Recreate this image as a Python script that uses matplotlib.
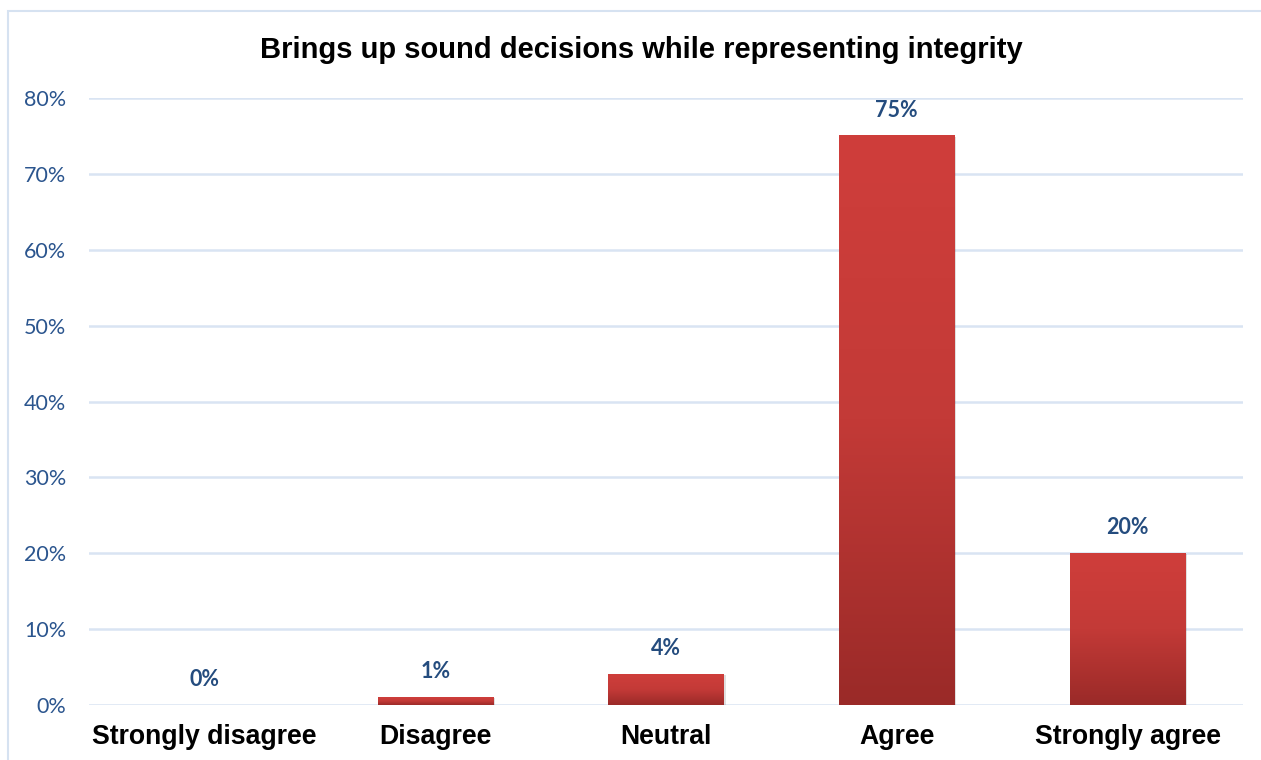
import matplotlib
matplotlib.use("Agg")
import matplotlib.pyplot as plt
import numpy as np
from matplotlib.patches import Rectangle
from matplotlib.colors import LinearSegmentedColormap

categories = ["Strongly disagree", "Disagree", "Neutral", "Agree", "Strongly agree"]
values = [0, 1, 4, 75, 20]
labels = ["0%", "1%", "4%", "75%", "20%"]
yticks = [0, 10, 20, 30, 40, 50, 60, 70, 80]
ytick_labels = ["0%", "10%", "20%", "30%", "40%", "50%", "60%", "70%", "80%"]
title = "Brings up sound decisions while representing integrity"

fig = plt.figure(figsize=(12.61, 7.6), dpi=100)
ax = fig.add_axes([89/1261, 1-705/760, (1243-89)/1261, (705-98)/760])

# figure border
fig.patches.append(Rectangle((8/1261, -0.01), 1.1, 1-11/760+0.01, transform=fig.transFigure,
                             fill=False, edgecolor="#D6E2F1", linewidth=1.5, zorder=0))

x = np.arange(len(categories))
bars = ax.bar(x, values, width=0.5, color="none", edgecolor="none", zorder=3)

cmap = LinearSegmentedColormap.from_list("g", ["#9A2A28", "#C33A37", "#CF3E3B"])
grad = np.linspace(0, 1, 256).reshape(-1, 1)
for b in bars:
    h = b.get_height()
    if h <= 0:
        continue
    x0 = b.get_x(); w = b.get_width()
    # soft shadow
    ax.add_patch(Rectangle((x0 + 0.008, -0.15), w, h + 0.05, facecolor="#000000", alpha=0.12,
                           edgecolor="none", zorder=2))
    ax.imshow(grad, extent=(x0, x0 + w, 0, h), origin="lower", cmap=cmap, aspect="auto",
              zorder=3, interpolation="bicubic")

for xi, v, lab in zip(x, values, labels):
    ax.annotate(lab, (xi, v), xytext=(0, 18.5), textcoords="offset points", ha="center", va="center",
                fontsize=15.5, fontweight="bold", color="#244C7E", family=["Lato", "DejaVu Sans"])

ax.set_xlim(-0.5, len(categories) - 0.5)
ax.set_ylim(0, 80)
ax.set_yticks(yticks)
ax.set_yticklabels(ytick_labels, family=["Lato", "DejaVu Sans"], fontsize=15.5, color="#2B558E")
ax.set_xticks(x)
ax.set_xticklabels(categories, family=["Liberation Sans", "DejaVu Sans"], fontsize=19.2,
                   fontweight="bold", color="black")
ax.tick_params(axis="both", length=0)
ax.tick_params(axis="y", pad=16.5)
ax.tick_params(axis="x", pad=14)
ax.grid(axis="y", color="#D9E4F3", linewidth=1.8, zorder=0)
ax.set_axisbelow(True)
for s in ax.spines.values():
    s.set_visible(False)

fig.text(641/1261, 1-50/760, title, ha="center", va="center", fontsize=21, fontweight="bold",
         family=["Liberation Sans", "DejaVu Sans"], color="black")

fig.savefig("out.png", dpi=100)
